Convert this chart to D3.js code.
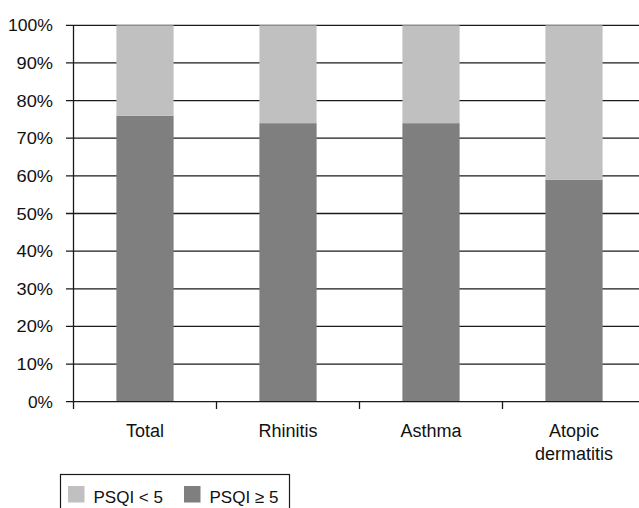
<!DOCTYPE html>
<html>
<head>
<meta charset="utf-8">
<script src="https://cdn.jsdelivr.net/npm/d3@7"></script>
<style>
  html, body { margin: 0; padding: 0; background: #fff; overflow: hidden; }
  text { font-family: "Liberation Sans", Arial, sans-serif; fill: #111; }
</style>
</head>
<body>
<svg id="chart" width="639" height="508"></svg>
<script>
const categories = [["Total"], ["Rhinitis"], ["Asthma"], ["Atopic", "dermatitis"]];
const psqiHigh = [76, 74, 74, 59];   // PSQI ≥ 5 (%)
const psqiLow = psqiHigh.map(v => 100 - v); // PSQI < 5 (%) – complements to 100%
const yTicks = [0, 10, 20, 30, 40, 50, 60, 70, 80, 90, 100];
const seriesNames = ["PSQI < 5", "PSQI \u2265 5"];
const colors = ["#c0c0c0", "#7f7f7f"];

const svg = d3.select("#chart");
const x0 = 73.5, x1 = 645.5, yTop = 25.3, yBot = 401.7;

const x = d3.scaleBand().domain(d3.range(categories.length)).range([x0, x1])
  .paddingInner(0.6).paddingOuter(0.3);
const y = d3.scaleLinear().domain([0, 100]).range([yBot, yTop]);

// gridlines with outward tick
svg.append("g").selectAll("line").data(yTicks.slice(1)).join("line")
  .attr("x1", 66).attr("x2", 639)
  .attr("y1", d => y(d)).attr("y2", d => y(d))
  .attr("stroke", "#1a1a1a").attr("stroke-width", 1.3);

// y tick labels
svg.append("g").selectAll("text").data(yTicks).join("text")
  .attr("x", 53).attr("y", d => y(d) + 6)
  .attr("text-anchor", "end").attr("font-size", 16.5)
  .attr("textLength", d => d === 100 ? 45 : d === 0 ? 25 : 36.5).attr("lengthAdjust", "spacingAndGlyphs")
  .text(d => d + "%");

// stacked bars
const bars = svg.append("g");
categories.forEach((c, i) => {
  bars.append("rect").attr("x", x(i)).attr("width", x.bandwidth())
    .attr("y", y(psqiHigh[i])).attr("height", y(0) - y(psqiHigh[i]))
    .attr("fill", colors[1]);
  bars.append("rect").attr("x", x(i)).attr("width", x.bandwidth())
    .attr("y", y(psqiHigh[i] + psqiLow[i])).attr("height", y(psqiHigh[i]) - y(psqiHigh[i] + psqiLow[i]))
    .attr("fill", colors[0]);
});

// axes
svg.append("line").attr("x1", x0).attr("x2", x0).attr("y1", yTop).attr("y2", 409)
  .attr("stroke", "#1a1a1a").attr("stroke-width", 1.3);
svg.append("line").attr("x1", 66).attr("x2", 639).attr("y1", yBot).attr("y2", yBot)
  .attr("stroke", "#1a1a1a").attr("stroke-width", 1.3);
svg.append("g").selectAll("line").data(d3.range(1, categories.length)).join("line")
  .attr("x1", d => x0 + d * x.step()).attr("x2", d => x0 + d * x.step())
  .attr("y1", yBot).attr("y2", 409)
  .attr("stroke", "#1a1a1a").attr("stroke-width", 1.3);

// category labels
categories.forEach((lines, i) => {
  lines.forEach((t, j) => {
    svg.append("text").attr("x", x(i) + x.bandwidth() / 2).attr("y", 437 + j * 23)
      .attr("text-anchor", "middle").attr("font-size", 18).text(t);
  });
});

// legend
const lg = svg.append("g");
lg.append("rect").attr("x", 60.5).attr("y", 474.5).attr("width", 229).attr("height", 45)
  .attr("fill", "#fff").attr("stroke", "#1a1a1a").attr("stroke-width", 1.2);
const legendX = [68, 184];
seriesNames.forEach((n, i) => {
  lg.append("rect").attr("x", legendX[i]).attr("y", 486).attr("width", 16.5).attr("height", 16.5)
    .attr("fill", colors[i]);
  lg.append("text").attr("x", legendX[i] + 25.5).attr("y", 502.5).attr("font-size", 17)
    .text(n);
});
</script>
</body>
</html>
